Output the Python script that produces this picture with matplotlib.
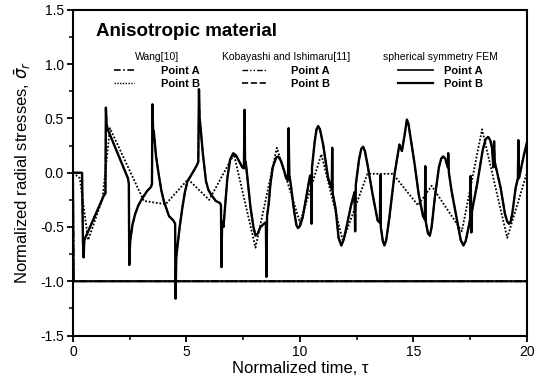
import numpy as np
import matplotlib
matplotlib.use("Agg")
import matplotlib.pyplot as plt
from matplotlib.lines import Line2D
from matplotlib.legend import Legend

plt.rcParams['font.family'] = ['Liberation Sans', 'DejaVu Sans']

# FEM / Kobayashi, point B (thick solid with spikes)
t_b = [0, 0.40, 0.44, 0.47, 0.50, 1.36, 1.43, 1.45, 1.48, 1.53, 2.42, 2.46, 2.48, 2.52,
       2.62, 2.74, 2.88, 3.04, 3.26, 3.44, 3.48, 3.50, 3.53, 3.56, 3.66, 3.78, 3.89, 4.00,
       4.23, 4.42, 4.50, 4.52, 4.55, 4.58, 4.70, 4.82, 4.93, 5.04, 5.27, 5.46, 5.52, 5.55,
       5.58, 5.61, 5.72, 5.86, 5.97, 6.08, 6.29, 6.48, 6.52, 6.54, 6.57, 6.63, 6.80, 6.92,
       7.06, 7.18, 7.31, 7.46, 7.53, 7.56, 7.58, 7.62, 7.82, 7.95, 8.04, 8.14, 8.26, 8.47,
       8.50, 8.52, 8.55, 8.62, 8.70, 8.80, 8.95, 9.05, 9.16, 9.30, 9.39, 9.47, 9.50, 9.53,
       9.59, 9.74, 9.84, 9.91, 10.00, 10.12, 10.32, 10.44, 10.49, 10.51, 10.53, 10.65, 10.73,
       10.80, 10.88, 11.02, 11.24, 11.40, 11.42, 11.44, 11.57, 11.70, 11.82, 11.92, 12.05,
       12.25, 12.40, 12.43, 12.46, 12.60, 12.70, 12.78, 12.86, 12.97, 13.20, 13.42, 13.52,
       13.54, 13.56, 13.65, 13.72, 13.80, 13.94, 14.16, 14.38, 14.49, 14.61, 14.71, 14.78,
       14.83, 15.05, 15.23, 15.42, 15.50, 15.52, 15.54, 15.64, 15.72, 15.80, 15.94, 16.12,
       16.22, 16.31, 16.40, 16.51, 16.53, 16.56, 16.68, 16.91, 17.08, 17.20, 17.30, 17.43,
       17.50, 17.52, 17.55, 17.58, 17.80, 18.05, 18.18, 18.29, 18.38, 18.46, 18.52, 18.55,
       18.58, 18.84, 19.03, 19.13, 19.21, 19.28, 19.35, 19.50, 19.60, 19.62, 19.65, 19.85,
       20.0]
s_b = [0, 0, -0.64, -0.78, -0.62, -0.21, -0.19, 0.60, 0.45, 0.40, -0.05, -0.10, -0.85, -0.63,
       -0.48, -0.38, -0.30, -0.24, -0.17, -0.13, -0.10, 0.63, 0.40, 0.38, 0.15, -0.02, -0.16, -0.26,
       -0.40, -0.44, -0.47, -1.16, -0.78, -0.72, -0.50, -0.32, -0.18, -0.08, 0.00, 0.07, 0.10, 0.77,
       0.50, 0.44, 0.18, -0.08, -0.16, -0.20, -0.26, -0.28, -0.30, -0.87, -0.45, -0.50, -0.05, 0.12,
       0.18, 0.16, 0.11, 0.05, 0.04, 0.58, 0.12, 0.08, -0.32, -0.50, -0.58, -0.56, -0.50, -0.46,
       -0.48, -0.96, -0.40, -0.29, -0.10, 0.05, 0.14, 0.15, 0.11, 0.02, -0.05, -0.07, 0.41, -0.02,
       -0.10, -0.35, -0.48, -0.51, -0.49, -0.41, -0.17, -0.03, -0.02, -0.47, 0.05, 0.29, 0.40,
       0.43, 0.40, 0.26, -0.05, -0.15, 0.23, -0.19, -0.33, -0.60, -0.67, -0.62, -0.50,
       -0.30, -0.18, -0.54, -0.11, 0.12, 0.22, 0.24, 0.20, 0.08, -0.20, -0.44, -0.46,
       -0.02, -0.50, -0.63, -0.67, -0.62, -0.41, -0.02, 0.26, 0.20, 0.35, 0.49, 0.45,
       0.38, 0.08, -0.20, -0.40, -0.43, 0.06, -0.45, -0.56, -0.58, -0.50, -0.23, 0.05,
       0.13, 0.15, 0.13, 0.05, 0.18, 0.00, -0.17, -0.43, -0.62, -0.67, -0.63, -0.50,
       -0.42, -0.03, -0.55, -0.35, -0.11, 0.21, 0.31, 0.33, 0.30, 0.23, 0.05, 0.29,
       0.10, -0.14, -0.38, -0.45, -0.47, -0.45, -0.38, -0.14, -0.05, 0.30, -0.05, 0.15,
       0.28]

# Wang, point B (coarse dotted)
t_wang_b = [0, 0.30, 0.67, 1.30, 1.63, 3.12, 4.08, 5.07, 6.00, 7.09, 8.04, 8.98, 10.00,
            10.94, 11.89, 12.97, 14.09, 15.20, 15.80, 17.13, 18.02, 19.13, 20.0]
s_wang_b = [0, -0.05, -0.62, -0.24, 0.41, -0.26, -0.29, -0.06, -0.25, 0.17, -0.69, 0.23, -0.46,
            0.17, -0.63, -0.01, -0.01, -0.30, -0.12, -0.54, 0.40, -0.60, 0.0]

# point A (all three solutions sit on -1)
t_a = [0, 0.03, 20.0]
s_a = [0, -1.0, -1.0]

fig = plt.figure(figsize=(5.43, 3.84), dpi=100)
ax = fig.add_axes([0.1344, 0.1263, 0.8361, 0.8477])

dashdot = (0, (4, 1.5, 1, 1.5))
dashdotdot = (0, (4, 1.5, 1, 1.5, 1, 1.5))
ax.plot(t_a, s_a, color='black', lw=1.3, ls=dashdot, zorder=2)
ax.plot(t_a, s_a, color='black', lw=1.3, ls=dashdotdot, zorder=2)
ax.plot(t_a, s_a, color='black', lw=1.5, ls='-', zorder=3)
ax.plot(t_wang_b, s_wang_b, color='black', lw=1.3, ls=(0, (1, 1)), zorder=2)
ax.plot(t_b, s_b, color='black', lw=1.2, ls='--', zorder=2)
ax.plot(t_b, s_b, color='black', lw=1.7, ls='-', zorder=3)

ax.set_xlim(0, 20)
ax.set_ylim(-1.5, 1.5)
ax.set_xticks([0, 5, 10, 15, 20])
ax.set_xticks(np.arange(0, 20.1, 2.5), minor=True)
ax.set_yticks([-1.5, -1.0, -0.5, 0.0, 0.5, 1.0, 1.5])
ax.set_yticks(np.arange(-1.5, 1.51, 0.25), minor=True)
ax.set_yticklabels(['-1.5', '-1.0', '-0.5', '0.0', '0.5', '1.0', '1.5'])
ax.tick_params(axis='both', which='major', labelsize=10, length=4.5, width=1.3,
               direction='out', pad=2)
ax.tick_params(axis='both', which='minor', length=3, width=1.1, direction='out')
for sp in ax.spines.values():
    sp.set_linewidth(1.5)

ax.set_xlabel('Normalized time, \u03c4', fontsize=12, labelpad=2)
ax.set_ylabel(r'Normalized radial stresses, $\bar{\sigma}_r$', fontsize=12, labelpad=5)

ax.text(0.05, 0.933, 'Anisotropic material', transform=ax.transAxes,
        fontsize=13.5, fontweight='bold', va='center', ha='left')


def make_legend(title, styles, x, hlen, hpad):
    handles = [Line2D([], [], color='black', lw=w, ls=s) for s, w in styles]
    leg = Legend(ax, handles, ['Point A', 'Point B'], title=title, loc='upper center',
                 bbox_to_anchor=(x, 0.89), frameon=False,
                 prop={'size': 8, 'weight': 'bold'}, title_fontsize=7.5,
                 handlelength=hlen, handletextpad=hpad, labelspacing=0.3,
                 borderpad=0.1)
    ax.add_artist(leg)


make_legend('Wang[10]', [(dashdot, 1.2), ((0, (1, 1)), 1.0)], 0.185, 1.8, 2.5)
make_legend('Kobayashi and Ishimaru[11]', [(dashdotdot, 1.0), ('--', 1.2)], 0.47, 2.2, 2.2)
make_legend('spherical symmetry FEM', [('-', 1.2), ('-', 1.6)], 0.81, 3.1, 1.0)

fig.savefig('out.png', dpi=100)
